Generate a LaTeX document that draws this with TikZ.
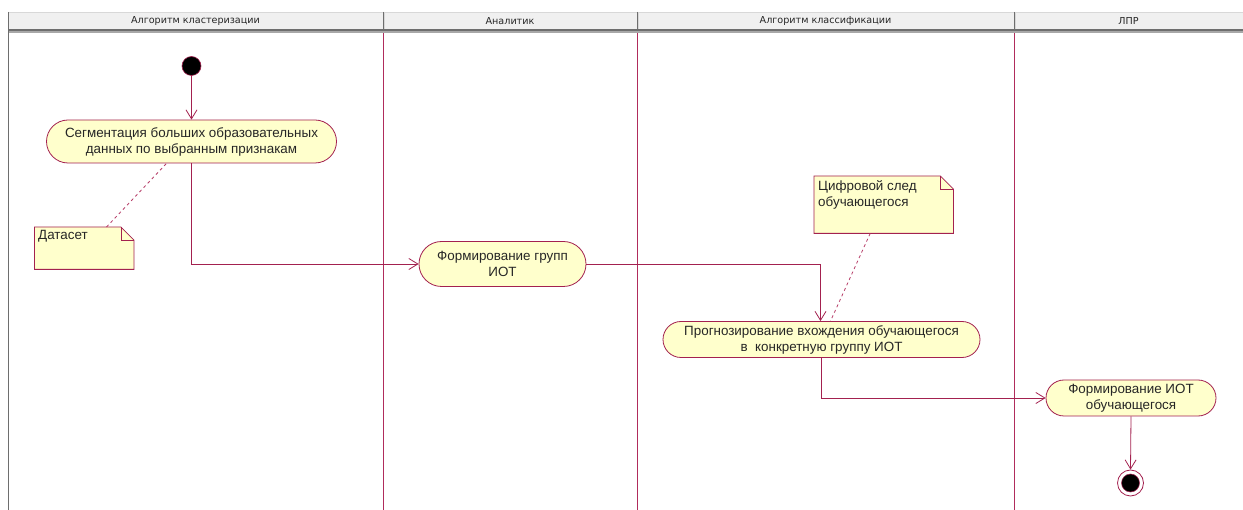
\documentclass[tikz,border=0pt]{standalone}
\usepackage{fontspec}
\setmainfont{Liberation Sans}
\newfontfamily\headfont{DejaVu Sans}
\usetikzlibrary{arrows.meta,calc}

\definecolor{umlline}{HTML}{A3214F}
\definecolor{umllane}{HTML}{B02C5C}
\definecolor{umldash}{HTML}{B8406A}
\definecolor{umlfill}{HTML}{FFFFCC}
\definecolor{hdrfill}{HTML}{F0F0F0}
\definecolor{hdrdark}{HTML}{6E6E6E}
\definecolor{hdrmid}{HTML}{A8A8A8}
\definecolor{hdrlight}{HTML}{D8D8D8}
\definecolor{hdrtext}{HTML}{262626}

% note with a folded top-right corner, drawn around an empty node
\newcommand{\drawnote}[1]{%
  \draw[umlline, line width=0.8pt, fill=umlfill]
    (#1.north west) -- ($(#1.north east)+(-13,0)$) -- ($(#1.north east)+(0,13)$)
    -- (#1.south east) -- (#1.south west) -- cycle;
  \draw[umlline, line width=0.6pt]
    ($(#1.north east)+(-13,0)$) -- ($(#1.north east)+(-13,13)$) -- ($(#1.north east)+(0,13)$);
}

\begin{document}
\begin{tikzpicture}[x=1pt,y=-1pt,
  lanehead/.style={font=\headfont\fontsize{9.6}{11}\selectfont, text=hdrtext, inner sep=0pt},
  action/.style n args={3}{draw=umlline, fill=umlfill, line width=0.8pt,
    minimum width=#1, minimum height=#2, rounded corners=#3,
    align=center, inner sep=0pt, text=black!85,
    font=\fontsize{13.4}{16}\selectfont},
  notebox/.style={draw=none, inner sep=0pt, anchor=north west},
  notetext/.style={anchor=north west, align=left, inner sep=0pt, text=black!85,
    font=\fontsize{13.4}{16}\selectfont},
  flow/.style={draw=umlline, line width=0.8pt, -{Straight Barb[length=9pt,width=11pt]}},
  anchorline/.style={draw=umldash, line width=0.8pt, dash pattern=on 3pt off 3pt},
  lane/.style={draw=umllane, line width=1.5pt},
]
\useasboundingbox (0,0) rectangle (1243,510);
\fill[white] (0,0) rectangle (1243,510);

% swimlane header
\fill[hdrfill] (8,12) rectangle (1243,29.5);
\draw[hdrlight, line width=0.8pt] (8,12) -- (1243,12);
\fill[hdrdark] (8,29.5) rectangle (1243,31);
\fill[hdrmid] (8,31) rectangle (1243,33);
\draw[hdrdark, line width=1pt] (8,12) -- (8,510);
\foreach \lx in {383,637,1014}{
  \draw[hdrdark, line width=0.9pt] (\lx,12) -- (\lx,29.5);
  \draw[hdrlight, line width=0.8pt] (\lx+1.2,12) -- (\lx+1.2,29.5);
  \draw[lane] (\lx+0.5,33) -- (\lx+0.5,510);
}
\node[lanehead] (h1) at (195.5,21) {Алгоритм кластеризации};
\node[lanehead] (h2) at (510,21) {Аналитик};
\node[lanehead] (h3) at (825.5,21) {Алгоритм классификации};
\node[lanehead] (h4) at (1128.5,21) {ЛПР};

% initial and final states
\node[circle, fill=black, draw=umlline, line width=0.6pt, minimum size=19pt, inner sep=0pt] (start) at (191.5,66) {};
\node[circle, fill=white, draw=umlline, line width=0.8pt, minimum size=26pt, inner sep=0pt] (end) at (1130.5,483) {};
\node[circle, fill=black, draw=umlline, line width=0.5pt, minimum size=18pt, inner sep=0pt] (endcore) at (end.center) {};

% activities
\node[action={290pt}{43pt}{21.5pt}] (a1) at (191.5,141.5)
  {Сегментация больших образовательных\\данных по выбранным признакам};
\node[action={167pt}{45pt}{22.5pt}] (a2) at (502.5,264)
  {Формирование групп\\ИОТ};
\node[action={317pt}{36pt}{18pt}] (a3) at (821.5,339.5)
  {Прогнозирование вхождения обучающегося\\в\ \ конкретную группу ИОТ};
\node[action={170pt}{36pt}{18pt}] (a4) at (1131,398)
  {Формирование ИОТ\\обучающегося};

% notes
\node[notebox, minimum width=99pt, minimum height=42pt] (n1) at (34.5,227) {};
\drawnote{n1}
\node[notetext] (n1t) at ($(n1.north west)+(3.5,3)$) {Датасет};

\node[notebox, minimum width=139pt, minimum height=57pt] (n2) at (814,176) {};
\drawnote{n2}
\node[notetext] (n2t) at ($(n2.north west)+(4,4)$) {Цифровой след\\обучающегося};

% note attachments
\draw[anchorline] ($(n1.north west)+(72,0)$) -- ($(a1.south)+(-25,0)$);
\draw[anchorline] ($(n2.south)+(-13.5,0)$) -- ($(a3.north)+(9,0)$);

% control flow
\draw[flow] (start) -- (a1);
\draw[flow] (a1.south) |- (a2.west);
\draw[flow] (a2.east) -| ($(a3.north)+(-1,0)$);
\draw[flow] (a3.south) |- (a4.west);
\draw[flow] (a4.south) -- (end.north);
\end{tikzpicture}
\end{document}
